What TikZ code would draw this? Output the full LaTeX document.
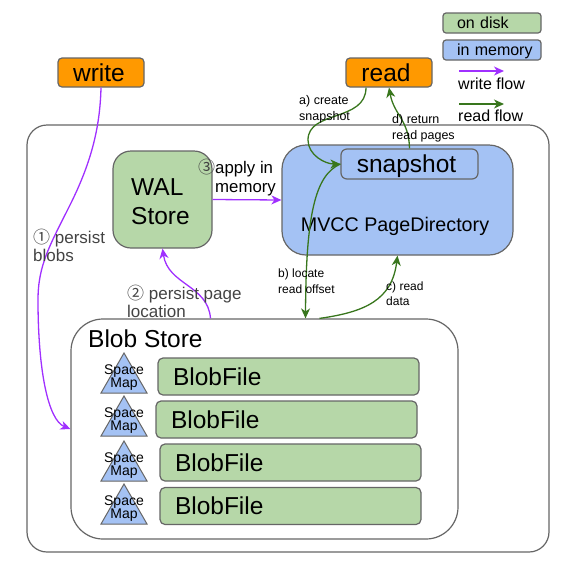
\documentclass[tikz,border=0pt]{standalone}
\usepackage{fontspec}
\setmainfont{Liberation Sans}
\newfontfamily\circfont{Noto Sans CJK SC}
\usetikzlibrary{
  arrows.meta
}
\definecolor{diskgreen}{HTML}{B6D7A8}
\definecolor{memblue}{HTML}{A4C2F4}
\definecolor{reqorange}{HTML}{FF9900}
\definecolor{edgegray}{HTML}{666666}
\definecolor{notegray}{HTML}{434343}
\definecolor{writeflow}{HTML}{A030FF}
\definecolor{readflow}{HTML}{38761D}
\tikzset{
  box/.style={draw=edgegray,line width=1.2pt,rectangle,inner sep=0pt},
  request/.style={box,fill=reqorange,rounded corners=4pt,minimum height=29pt,text width=72pt,inner xsep=7pt,align=center,text height=22pt,text depth=4pt,font=\fontsize{24.5}{27}\selectfont},
  legend/.style={box,fill=#1,rounded corners=3pt,text width=84pt,inner xsep=7pt,align=left,minimum height=20pt,text height=13.5pt,text depth=2.5pt,font=\fontsize{16}{18}\selectfont,execute at begin node={\hspace*{7pt}}},
  blobfile/.style={box,fill=diskgreen,rounded corners=5pt,text width=231pt,inner xsep=15pt,minimum height=37pt,align=left,text height=21pt,text depth=4pt,font=\fontsize{24.5}{27}\selectfont},
  note/.style={anchor=west,inner sep=0pt,align=left,font=\fontsize{17}{18.2}\selectfont},
  small/.style={note,font=\fontsize{12.5}{15.5}\selectfont},
  wflow/.style={draw=writeflow,line width=1.3pt,-{Stealth[length=10pt,width=9pt,inset=3pt]}},
  rflow/.style={draw=readflow,line width=1.3pt,-{Stealth[length=10pt,width=9pt,inset=3pt]}}
}
\begin{document}
\begin{tikzpicture}[x=1pt,y=-1pt]
  \useasboundingbox (0,0) rectangle (565,566);
  % legend
  \node[legend=diskgreen] (ondisk) at (492,23) {on disk};
  \node[legend=memblue] (inmemory) at (492,50) {in memory};
  \coordinate (wstart) at (459,71);
  \coordinate (wend) at (504,71);
  \coordinate (rstart) at (459,104);
  \coordinate (rend) at (504,104);
  \draw[wflow] (wstart) -- (wend);
  \draw[rflow] (rstart) -- (rend);
  \node[note,font=\fontsize{16}{18}\selectfont] (wlabel) at (458,84) {write flow};
  \node[note,font=\fontsize{16}{18}\selectfont] (rlabel) at (458,116) {read flow};
  % boxes
  \node[box,rounded corners=20pt,minimum width=522pt,minimum height=427pt] (server) at (288,338.5) {};
  \node[request] (write) at (101,72.5) {\hspace{-4pt}write};
  \node[request] (read) at (389,72.5) {\hspace{-6pt}read};
  \node[box,fill=diskgreen,rounded corners=18pt,minimum width=99pt,minimum height=97pt] (WALStore) at (162.5,199.5) {};
  \node[anchor=west,inner sep=0pt,align=left,font=\fontsize{24.5}{29}\selectfont] (WALLabel) at (131,202) {WAL\\Store};
  \node[box,fill=memblue,rounded corners=24pt,minimum width=231pt,minimum height=110pt] (PageDir) at (397.5,200) {};
  \node[anchor=base,font=\fontsize{19.7}{22}\selectfont,inner sep=0pt] (PageDirLabel) at (395,231) {MVCC PageDirectory};
  \node[box,fill=memblue,rounded corners=6pt,minimum width=137pt,minimum height=30pt,text width=123pt,align=center,text height=20pt,text depth=4pt,font=\fontsize{24.5}{27}\selectfont] (snapshot) at (409.5,164) {\hspace{-6pt}snapshot};
  \node[box,fill=white,rounded corners=32pt,minimum width=387pt,minimum height=220pt] (BlobStore) at (264.5,429) {};
  \node[note,font=\fontsize{24.5}{27}\selectfont] (BlobLabel) at (88,339) {Blob Store};
  \node[blobfile] (file1) at (288.5,376.5) {BlobFile};
  \node[blobfile] (file2) at (286.5,419.5) {BlobFile};
  \node[blobfile] (file3) at (290.5,462.5) {BlobFile};
  \node[blobfile] (file4) at (290.5,506) {BlobFile};
  \foreach \i/\y in {1/393,2/436,3/481,4/524} {
    \draw[fill=memblue,draw=edgegray,line width=1pt] (101,\y) -- (147,\y) -- (124,\y-40) -- cycle;
    \node[align=center,inner sep=0pt,font=\fontsize{14}{13.5}\selectfont] (space\i) at (124,\y-15.5) {Space\\Map};
  }
  % flows
  \draw[wflow] (write.south) .. controls (100,130) and (90,165) .. (70,205)
    .. controls (50,245) and (38,265) .. (38,300)
    .. controls (38,370) and (48,420) .. (BlobStore.west);
  \draw[wflow] (WALStore.east) -- (PageDir.west);
  \draw[wflow] ([xshift=-54pt]BlobStore.north) .. controls (208,285) and (168,285) .. (WALStore.south);
  \draw[rflow] ([xshift=-23pt]read.south) .. controls (366,122) and (308,110) .. (308,140)
    .. controls (308,155) and (325,164) .. (snapshot.west);
  \draw[rflow] (snapshot.north) .. controls (409,120) and (394,115) .. (read.south);
  \draw[rflow] (snapshot.west) .. controls (315,175) and (306,215) .. ([xshift=41pt]BlobStore.north);
  \draw[rflow] ([xshift=55pt]BlobStore.north) .. controls (365,312) and (392,300) .. (PageDir.south);
  % labels
  \node[note,text=notegray] (step1) at (33,245) {{\circfont ①} persist\\blobs};
  \node[note,text=notegray] (step2) at (127,301.5) {{\circfont ②} persist page\\location};
  \node[note,text=notegray,font=\fontsize{17}{18.6}\selectfont\circfont] (step3) at (198,167) {③};
  \node[note,font=\fontsize{16.8}{19}\selectfont] (step3text) at (215,178.5) {apply in\\memory};
  \node[small] (stepa) at (299,109.5) {a) create\\snapshot};
  \node[small] (stepd) at (392,128.5) {d) return\\read pages};
  \node[small,font=\fontsize{12}{15.5}\selectfont] (stepb) at (278,281) {b) locate\\read offset};
  \node[small,font=\fontsize{12}{15.5}\selectfont] (stepc) at (386,293.5) {c) read\\data};
\end{tikzpicture}
\end{document}
